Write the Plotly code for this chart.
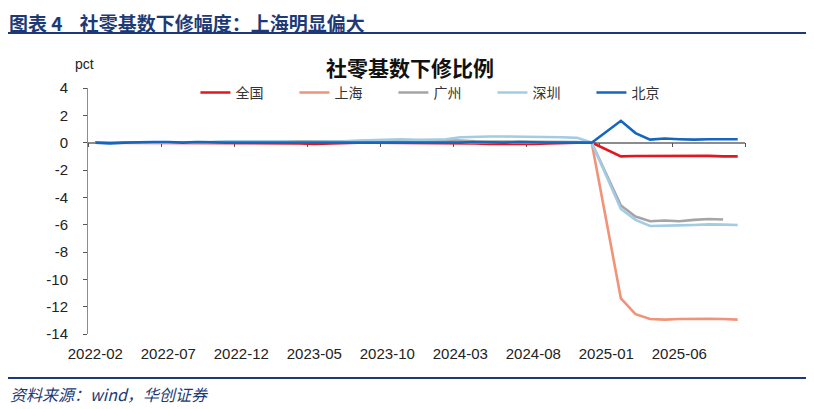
import plotly.graph_objects as go

# months on the category axis (January has no separate data, left empty)
months = [
    "2022-02", "2022-03", "2022-04", "2022-05", "2022-06", "2022-07", "2022-08", "2022-09", "2022-10", "2022-11", "2022-12",
    "2023-01", "2023-02", "2023-03", "2023-04", "2023-05", "2023-06", "2023-07", "2023-08", "2023-09", "2023-10", "2023-11", "2023-12",
    "2024-01", "2024-02", "2024-03", "2024-04", "2024-05", "2024-06", "2024-07", "2024-08", "2024-09", "2024-10", "2024-11", "2024-12",
    "2025-01", "2025-02", "2025-03", "2025-04", "2025-05", "2025-06", "2025-07", "2025-08", "2025-09", "2025-10",
]

quanguo = [
    0, 0, 0, 0, 0, 0, 0, 0, -0.05, -0.05, 0,
    None, 0, 0, -0.05, -0.1, -0.05, 0, 0, 0, 0, 0, 0,
    None, 0, 0, -0.05, -0.1, -0.1, -0.15, -0.1, -0.05, 0, 0, 0,
    None, -1.0, -0.98, -0.97, -0.96, -0.96, -0.96, -0.97, -1.0, -1.0,
]
shanghai = [
    0, 0, 0, 0, 0, 0.05, 0, 0, 0, 0, 0,
    None, 0, 0, 0, 0, 0, 0, 0, 0, 0, 0, 0,
    None, 0, 0, 0, 0, 0, 0, 0, 0, 0, 0, 0,
    None, -11.4, -12.55, -12.9, -12.95, -12.9, -12.88, -12.88, -12.9, -12.95,
]
guangzhou = [
    0, 0, 0.05, 0.05, 0, 0, 0, 0, 0.05, 0.05, 0.05,
    None, 0.1, 0.1, 0.05, 0.05, 0.05, 0.1, 0.1, 0.15, 0.2, 0.2, 0.2,
    None, 0.2, 0.15, 0.1, 0.1, 0.05, 0.05, 0.05, 0.05, 0.05, 0.05, 0,
    None, -4.6, -5.4, -5.75, -5.7, -5.75, -5.65, -5.58, -5.62, None,
]
shenzhen = [
    0, 0, 0, 0, 0, 0, 0, 0, 0.05, 0.1, 0.1,
    None, 0.15, 0.1, 0.05, 0.05, 0.05, 0.1, 0.15, 0.2, 0.25, 0.25, 0.2,
    None, 0.25, 0.4, 0.45, 0.45, 0.45, 0.45, 0.45, 0.45, 0.4, 0.35, 0,
    None, -4.85, -5.65, -6.1, -6.05, -6.05, -6.02, -5.98, -6.0, -6.02,
]
beijing = [
    0, -0.05, 0, 0.05, 0.05, 0.05, 0, 0.05, 0, 0, 0,
    None, 0, 0, 0, 0, 0, 0, 0, -0.05, 0, 0, 0,
    None, 0, 0, 0.05, 0, 0, 0.05, 0, 0, 0, 0, 0,
    None, 1.6, 0.7, 0.22, 0.3, 0.25, 0.22, 0.25, 0.25, 0.25,
]

series_names = ["全国", "上海", "广州", "深圳", "北京"]
series_data = [quanguo, shanghai, guangzhou, shenzhen, beijing]
colors = ["#E3161F", "#F0937A", "#A5A5A5", "#A3CCE4", "#1466BE"]

y_ticks = [4, 2, 0, -2, -4, -6, -8, -10, -12, -14]

FONT = "Liberation Sans, Noto Sans CJK SC, sans-serif"
CJK = "Noto Sans CJK SC, sans-serif"
NAVY = "#1D3A76"

xs = list(range(len(months)))
xr = [-0.5, len(months) - 0.5]

fig = go.Figure()
for name, vals, c in zip(series_names, series_data, colors):
    fig.add_trace(go.Scatter(
        x=xs, y=vals, name=name, mode="lines", connectgaps=True,
        line=dict(color=c, width=2.6),
    ))

# empty trace so the label axis gets drawn
fig.add_trace(go.Scatter(x=[], y=[], xaxis="x2", showlegend=False, hoverinfo="skip"))

zero_pos = (0 - y_ticks[-1]) / (y_ticks[0] - y_ticks[-1])

# page body has an 8px margin, so the figure is 8px smaller than the window
fig.update_layout(
    width=806, height=401,
    margin=dict(l=80, r=69, t=80, b=75),
    paper_bgcolor="white", plot_bgcolor="white",
    font=dict(family=FONT, size=14, color="#222222"),
    showlegend=True,
    legend=dict(
        orientation="h", x=0.1635, y=0.98, xanchor="left", yanchor="middle",
        entrywidth=54, entrywidthmode="pixels",
        font=dict(family=CJK, size=14, color="#333333"),
        bgcolor="rgba(0,0,0,0)",
    ),
    xaxis=dict(
        range=xr, anchor="free", position=zero_pos, layer="below traces",
        showline=True, linecolor="#8C8C8C", linewidth=1.5,
        ticks="outside", ticklen=4, tickcolor="#555555",
        tickvals=[i - 0.5 for i in range(0, len(months) + 1, 5)],
        showticklabels=False, showgrid=False, zeroline=False,
    ),
    xaxis2=dict(
        range=xr, overlaying="x", anchor="y", side="bottom",
        tickvals=xs[::5], ticktext=months[::5],
        ticks="outside", ticklen=6, tickcolor="rgba(0,0,0,0)",
        showline=False, showgrid=False, zeroline=False,
        tickfont=dict(family=FONT, size=15, color="#222222"),
    ),
    yaxis=dict(
        range=[y_ticks[-1], y_ticks[0]],
        tickvals=y_ticks, ticktext=[str(v) for v in y_ticks],
        showline=True, linecolor="#8C8C8C", linewidth=1,
        ticks="outside", ticklen=4, tickcolor="#555555",
        ticklabelstandoff=12,
        showgrid=False, zeroline=False,
        tickfont=dict(family=FONT, size=15, color="#222222"),
    ),
)

# header, chart title, unit and source
fig.add_annotation(
    text="<b>图表 4\u00a0\u00a0\u00a0\u00a0社零基数下修幅度：上海明显偏大</b>",
    xref="paper", yref="paper", x=-0.1218, y=1.325, xanchor="left", yanchor="top",
    showarrow=False, borderpad=0, font=dict(family=CJK, size=19, color=NAVY),
)
fig.add_annotation(
    text="<b>社零基数下修比例</b>",
    xref="paper", yref="paper", x=0.49, y=1.087, xanchor="center", yanchor="middle",
    showarrow=False, font=dict(family=CJK, size=21, color="#111111"),
)
fig.add_annotation(
    text="pct",
    xref="paper", yref="paper", x=-0.005, y=1.097, xanchor="center", yanchor="middle",
    showarrow=False, font=dict(family=FONT, size=14, color="#222222"),
)
fig.add_annotation(
    text="<i>资料来源：wind，华创证券</i>",
    xref="paper", yref="paper", x=-0.1218, y=-0.243, xanchor="left", yanchor="middle",
    showarrow=False, font=dict(family=CJK, size=16, color=NAVY),
)

# rules under header and above source
for yy in [1.2236, -0.1789]:
    fig.add_shape(
        type="line", xref="paper", yref="paper", x0=-0.1218, x1=1.0974, y0=yy, y1=yy,
        line=dict(color=NAVY, width=2.2),
    )

fig.write_html("out.html")
